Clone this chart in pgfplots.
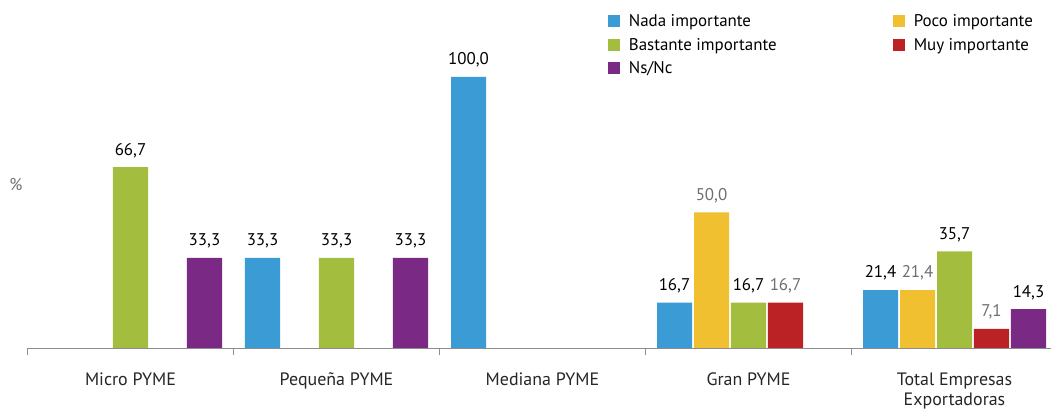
\documentclass[border=0pt]{standalone}
\usepackage{fontspec}
\setmainfont{PT Sans}
\usepackage{pgfplots}
\pgfplotsset{compat=1.18}
\definecolor{cNada}{HTML}{3A9BD5}
\definecolor{cPoco}{HTML}{F0C030}
\definecolor{cBast}{HTML}{A3BD3F}
\definecolor{cMuy}{HTML}{BB2226}
\definecolor{cNs}{HTML}{7A2A85}
\definecolor{cAxis}{HTML}{8C8C8C}
\definecolor{cLab}{HTML}{6E6E6E}
\newcommand{\chartfont}{\fontsize{17}{20}\selectfont}
\begin{document}
\begin{tikzpicture}
\begin{axis}[
  scale only axis, width=1055bp, height=271bp,
  xmin=-0.6335, xmax=4.488, ymin=0, ymax=100,
  axis y line=none, axis x line*=bottom,
  axis line style={draw=none},
  xtick={-0.5,0.5,1.5,2.5,3.5},
  xticklabels={},
  tick align=outside, major tick length=7bp,
  x tick style={draw=cAxis, line width=1bp},
  extra x ticks={0,1,2,3,4},
  extra x tick labels={Micro PYME, Pequeña PYME, Mediana PYME, Gran PYME, {Total Empresas\\Exportadoras}},
  extra x tick style={major tick length=0pt, tick style={draw=none},
    xticklabel style={font=\fontsize{18}{21}\selectfont, text=black!85, align=center, yshift=-21bp}},
  /pgf/number format/.cd, use comma, fixed, fixed zerofill, precision=1, assume math mode=true,
  /pgfplots/.cd,
  clip=false,
  mybar/.style={ybar, bar shift=0pt, bar width=0.17, draw=none, fill=#1,
    legend image code/.code={\draw[##1,/tikz/.cd,draw=none] (0bp,-6bp) rectangle (12bp,6bp);}},
  nodes near coords,
  nodes near coords style={font=\chartfont, text=black, yshift=6bp},
  legend columns=2,
  legend cell align=left,
  legend style={at={(axis description cs:0.576,1.238)}, anchor=north west, draw=none, fill=none,
    font=\chartfont, inner sep=0pt, row sep=6bp,
    /tikz/every odd column/.append style={column sep=7bp},
    /tikz/every even column/.append style={column sep=114bp}},
]
\addplot[mybar=cNada] coordinates {(0.6408,33.3) (1.6408,100.0) (2.6408,16.7) (3.6408,21.4)};
\addlegendentry{Nada importante}
\addplot[mybar=cPoco, nodes near coords style={text=cLab}] coordinates {(2.8204,50.0) (3.8204,21.4)};
\addlegendentry{Poco importante}
\addplot[mybar=cBast] coordinates {(0,66.7) (1,33.3) (3,16.7) (4,35.7)};
\addlegendentry{Bastante importante}
\addplot[mybar=cMuy, nodes near coords style={text=cLab}] coordinates {(3.1796,16.7) (4.1796,7.1)};
\addlegendentry{Muy importante}
\addplot[mybar=cNs] coordinates {(0.3592,33.3) (1.3592,33.3) (4.3592,14.3)};
\addlegendentry{Ns/Nc}
\draw[cAxis, line width=1bp] (axis cs:-0.5,0) -- (axis cs:4.47,0);
\end{axis}
\node[text=cLab, font=\chartfont] at (16bp,163bp) {\%};
\pgfresetboundingbox
\path (0bp,-64bp) rectangle (1055bp,348bp);
\end{tikzpicture}
\end{document}
